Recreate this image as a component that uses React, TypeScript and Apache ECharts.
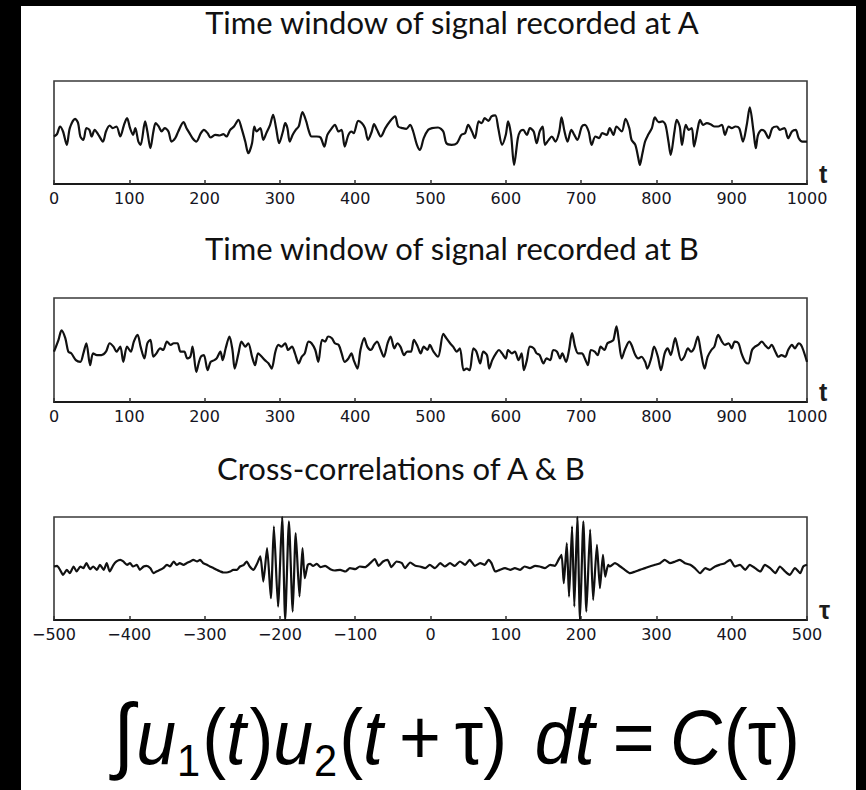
import React, { useEffect, useRef } from "react";
import * as echarts from "echarts";

// ---------- data ----------
const plotTitles = [
  "Time window of signal recorded at A",
  "Time window of signal recorded at B",
  "Cross-correlations of A & B",
];
const axisNames = ["t", "t", "τ"];
const timeRange = [0, 1000];
const lagRange = [-500, 500];
const tickStep = 100;
const ampLimit = 154;

// signal recorded at A: [t, amplitude]
const signalA = [
  [0,-12],[4,-5],[8,18],[12,3],[17,-37],[21,13],[28,41],[32,28],[35,-12],[39,-22],[43,13],[47,8],[50,-12],[54,8],[59,-7],[65,-27],[69,3],[74,21],[78,13],[83,18],[88,-12],[93,23],[97,43],[101,13],[105,-7],[108,13],[112,-27],[115,-37],[121,33],[124,3],[128,-47],[132,3],[135,28],[139,18],[143,3],[147,13],[152,3],[156,-27],[161,-17],[165,3],[172,31],[176,13],[180,-2],[184,-17],[189,-27],[195,-2],[199,8],[204,-2],[208,-15],[214,-7],[220,-9],[225,-5],[229,-12],[234,8],[239,18],[245,38],[249,13],[254,-27],[258,-62],[263,-32],[266,18],[269,3],[274,13],[278,-22],[282,-2],[287,23],[291,53],[295,13],[299,-32],[304,3],[307,28],[310,13],[313,-27],[317,-7],[321,8],[325,18],[330,61],[335,33],[338,8],[342,-12],[349,-12],[354,-15],[359,-42],[363,-7],[369,13],[373,23],[378,3],[382,8],[386,-42],[391,-7],[395,3],[398,-2],[404,35],[409,28],[413,13],[417,-22],[422,3],[425,25],[429,8],[434,-12],[440,13],[446,33],[453,48],[457,18],[463,13],[468,11],[473,23],[477,3],[482,-37],[486,-52],[491,-17],
  [497,8],[502,13],[510,15],[517,3],[521,-32],[528,-37],[535,-32],[541,-7],[546,-2],[550,23],[555,3],[559,-17],[564,33],[568,28],[572,43],[577,35],[581,48],[586,51],[590,13],[595,-37],[600,-7],[603,33],[607,-7],[611,-97],[616,-17],[619,3],[623,8],[628,-7],[632,13],[637,3],[641,-32],[645,3],[649,18],[652,-37],[657,-22],[661,-12],[666,-27],[671,3],[674,45],[678,3],[682,-27],[687,8],[691,-7],[695,-22],[701,18],[705,23],[710,3],[714,-37],[719,-12],[724,-17],[728,-2],[734,-7],[738,13],[743,-7],[747,18],[754,3],[759,41],[764,13],[767,-22],[772,-37],[776,-77],[778,-97],[781,-67],[785,-27],[789,-7],[794,13],[798,45],[803,31],[808,33],[812,23],[816,-27],[819,-67],[824,3],[827,38],[831,18],[834,-37],[839,23],[843,8],[847,13],[850,-42],[855,13],[858,38],[862,23],[867,28],[873,23],[877,18],[882,18],[887,23],[891,-7],[896,18],[900,13],[905,18],[910,13],[915,-27],[920,23],[924,75],[929,3],[932,-47],[935,-7],[940,8],[944,3],[949,-17],[954,13],[960,18],[964,8],[970,13],[975,-17],[980,3],[985,8],[989,-17],[994,-27],[1000,-27],
];

// signal recorded at B: [t, amplitude]
const signalB = [
  [0,-5],[6,30],[10,58],[15,35],[19,-5],[23,-10],[29,-30],[35,-35],[39,-10],[43,20],[48,-45],[52,-10],[57,-15],[63,-15],[69,-5],[74,20],[79,10],[83,-5],[88,10],[92,-35],[97,10],[102,-5],[106,25],[111,45],[115,10],[120,-25],[124,20],[128,30],[132,-20],[136,-10],[141,5],[145,0],[150,25],[155,15],[159,20],[164,20],[168,-5],[173,-5],[177,-25],[181,-20],[184,10],[189,-65],[192,-40],[195,-20],[199,-15],[204,-60],[208,-35],[213,-30],[216,-25],[221,-5],[224,-30],[228,5],[233,40],[237,0],[240,-55],[245,-10],[249,25],[254,10],[258,20],[263,-20],[267,-45],[271,-10],[276,-20],[280,-30],[285,-40],[289,-55],[294,-5],[298,15],[302,10],[307,20],[311,0],[316,10],[320,-10],[325,-40],[329,-20],[333,-10],[338,25],[342,20],[347,0],[351,-35],[356,30],[360,25],[364,40],[369,35],[373,20],[378,15],[382,-10],[386,-35],[391,-25],[395,-10],[398,-30],[403,-55],[407,0],[412,35],[416,10],[421,0],[425,15],[429,25],[434,0],[438,-20],[443,20],[447,40],[452,5],[456,20],[460,10],[465,-15],[469,-5],[474,-5],[478,30],[483,10],[487,-10],[491,10],[496,0],
  [499,15],[504,-5],[510,-20],[517,48],[521,35],[526,20],[530,10],[535,-5],[539,5],[544,-60],[548,-55],[552,-60],[557,5],[561,-5],[566,-40],[570,-5],[575,-15],[578,-55],[582,-30],[587,-10],[591,0],[595,-10],[600,-25],[603,0],[608,-10],[612,-5],[617,-30],[621,-10],[624,-60],[628,-30],[632,10],[637,5],[641,-10],[645,-15],[650,-40],[654,-25],[659,-30],[663,0],[668,-5],[672,-25],[675,-10],[680,-35],[684,0],[688,50],[692,10],[696,-10],[701,-10],[705,-25],[709,-45],[713,0],[718,-5],[722,-15],[726,10],[731,0],[735,20],[740,25],[743,30],[747,70],[750,30],[754,-25],[758,0],[764,25],[767,15],[772,-15],[776,-25],[780,-20],[785,-35],[788,-55],[793,-25],[797,10],[802,-20],[806,-60],[811,-10],[815,5],[819,-15],[825,35],[828,10],[833,-30],[837,-20],[842,5],[846,-5],[850,5],[855,40],[859,-5],[864,-55],[868,-20],[873,0],[877,10],[882,45],[887,25],[891,15],[896,20],[900,5],[904,25],[909,20],[913,-10],[918,-35],[922,-40],[927,0],[931,10],[935,15],[940,25],[944,15],[949,5],[953,15],[958,-5],[962,-20],[966,-15],[971,-20],[975,0],[980,15],[984,5],[989,20],[992,15],[995,0],[1000,-35],
];

// cross-correlation of A & B: [tau, C]
const crossCorr = [
  [-500,6],[-496,8],[-492,-4],[-488,-19],[-483,-4],[-479,-14],[-474,6],[-470,-9],[-465,6],[-461,1],[-457,16],[-452,-2],[-448,6],[-443,-4],[-439,11],[-434,-4],[-430,16],[-426,-9],[-421,11],[-417,21],[-412,26],[-408,21],[-403,11],[-399,16],[-395,6],[-390,11],[-386,-4],[-381,6],[-377,8],[-372,1],[-368,-14],[-364,-9],[-359,-4],[-355,1],[-350,11],[-346,6],[-341,21],[-337,11],[-333,16],[-328,11],[-324,16],[-319,21],[-315,26],[-310,21],[-306,26],[-302,16],[-297,11],[-293,6],[-288,1],[-284,-4],[-279,-9],[-275,-12],[-271,-12],[-266,-9],[-262,-4],[-257,-4],[-253,6],[-248,11],[-244,21],[-240,6],[-235,-4],[-231,11],
  [-226,36],[-222,-39],[-217,61],[-212,-89],[-208,126],[-202.5,-114],[-197,154],[-193,-154],[-188,141],[-183,-129],[-179,106],[-174,-84],[-170,61],[-167,-29],[-163,11],
  [-160,14],[-156,8],[-151,14],[-146,4],[-140,8],[-133,-2],[-127,-6],[-120,-4],[-113,-9],[-107,1],[-100,-2],[-94,6],[-87,4],[-80,16],[-74,28],[-69,8],[-63,21],[-57,26],[-52,4],[-45,21],[-38,16],[-34,1],[-27,18],[-20,8],[-14,6],[-7,1],[-1,11],[6,1],[13,16],[19,6],[26,16],[32,8],[39,21],[46,11],[52,26],[59,8],[66,16],[72,11],[77,26],[81,16],[86,-9],[92,-4],[99,1],[106,-4],[112,1],[119,-4],[125,6],[132,1],[139,8],[145,6],[152,1],[159,11],[165,8],[170,26],
  [174,41],[177,-44],[181,76],[184,-84],[188,126],[191,-114],[195,154],[198.5,-154],[203,141],[207,-129],[212,116],[216,-94],[221,71],[225,-59],[229,41],[232,-24],[236,11],
  [238,6],[245,16],[252,6],[258,-4],[265,-14],[272,-9],[278,-4],[285,1],[291,6],[298,11],[305,16],[311,26],[318,16],[325,21],[331,26],[338,16],[345,11],[351,1],[358,-14],[365,1],[371,-4],[378,6],[384,11],[391,16],[398,26],[404,6],[411,11],[418,-4],[424,11],[431,1],[438,-9],[444,11],[451,1],[458,-14],[464,6],[471,-9],[477,-19],[484,1],[491,-14],[495,6],[500,11],
];

// formula tokens (pre / post = relative gap weights)
const formulaTokens = [
  { text: "∫", italic: false, sub: false, scale: 1.08, pre: 0, post: 0.03 },
  { text: "u", italic: true, sub: false, scale: 1, pre: 0, post: 0 },
  { text: "1", italic: false, sub: true, scale: 0.58, pre: 0.01, post: 0.03 },
  { text: "(", italic: false, sub: false, scale: 1, pre: 0, post: 0 },
  { text: "t", italic: true, sub: false, scale: 1, pre: 0, post: 0.05 },
  { text: ")", italic: false, sub: false, scale: 1, pre: 0, post: 0 },
  { text: "u", italic: true, sub: false, scale: 1, pre: 0, post: 0 },
  { text: "2", italic: false, sub: true, scale: 0.58, pre: 0.01, post: 0.03 },
  { text: "(", italic: false, sub: false, scale: 1, pre: 0, post: 0 },
  { text: "t", italic: true, sub: false, scale: 1, pre: 0, post: 0.03 },
  { text: "+", italic: false, sub: false, scale: 1, pre: 0.2, post: 0.2 },
  { text: "τ", italic: false, sub: false, scale: 1, pre: 0, post: 0 },
  { text: ")", italic: false, sub: false, scale: 1, pre: 0, post: 0 },
  { text: "dt", italic: true, sub: false, scale: 1, pre: 0.4, post: 0.04 },
  { text: "=", italic: false, sub: false, scale: 1, pre: 0.22, post: 0.22 },
  { text: "C", italic: true, sub: false, scale: 1, pre: 0, post: 0.03 },
  { text: "(", italic: false, sub: false, scale: 1, pre: 0, post: 0 },
  { text: "τ", italic: false, sub: false, scale: 1, pre: 0, post: 0 },
  { text: ")", italic: false, sub: false, scale: 1, pre: 0, post: 0 },
];

// ---------- layout ----------
const W = 866;
const H = 790;
const gridBoxes = [
  { top: 81, height: 103 },
  { top: 298, height: 104 },
  { top: 517, height: 103 },
];
const titleCenters = [
  [452, 22],
  [452, 248],
  [401, 468],
];
const formulaLeft = 113;
const formulaWidth = 687;
const formulaFontSize = 78;
const formulaScaleX = 0.92;
const formulaBaseline = 770;
const subBaseline = 780;
const FORMULA_FONT = '"Liberation Sans", Arial, Helvetica, sans-serif';

function buildFormula(): any[] {
  const canvas = document.createElement("canvas");
  const ctx = canvas.getContext("2d");
  const size = formulaFontSize;
  const glyphWidth = (tok: any) => {
    const fs = size * tok.scale;
    if (!ctx) return fs * 0.55 * tok.text.length * formulaScaleX;
    ctx.font = `${tok.italic ? "italic " : ""}${fs}px ${FORMULA_FONT}`;
    return ctx.measureText(tok.text).width * formulaScaleX;
  };
  let glyphs = 0;
  let gaps = 0;
  formulaTokens.forEach((tok) => {
    glyphs += glyphWidth(tok);
    gaps += tok.pre + tok.post;
  });
  const gapUnit = Math.max(10, (formulaWidth - glyphs) / gaps);
  let x = formulaLeft;
  const els: any[] = [];
  formulaTokens.forEach((tok) => {
    const fs = size * tok.scale;
    const baseline = tok.sub ? subBaseline : formulaBaseline;
    x += tok.pre * gapUnit;
    els.push({
      type: "text",
      x,
      y: baseline - fs * 0.43,
      scaleX: formulaScaleX,
      silent: true,
      style: {
        text: tok.text,
        fontSize: fs,
        fontFamily: FORMULA_FONT,
        fontStyle: tok.italic ? "italic" : "normal",
        fill: "#000",
        align: "left",
        verticalAlign: "middle",
        textAlign: "left",
        textVerticalAlign: "middle",
      },
    });
    x += glyphWidth(tok) + tok.post * gapUnit;
  });
  return els;
}

function buildOption(): any {
  const seriesData = [signalA, signalB, crossCorr];
  const ranges = [timeRange, timeRange, lagRange];
  const fmt = (v: number) => (v < 0 ? "\u2212" + Math.abs(v) : String(v));

  const grid = gridBoxes.map((g) => ({
    left: 54,
    right: W - 807,
    top: g.top,
    height: g.height,
    show: true,
    borderColor: "#3a3a3a",
    borderWidth: 1.6,
    backgroundColor: "transparent",
  }));

  const xAxis = ranges.map((r, i) => ({
    type: "value",
    gridIndex: i,
    min: r[0],
    max: r[1],
    interval: tickStep,
    axisLine: { show: true, onZero: false, lineStyle: { color: "#1a1a1a", width: 2 } },
    axisTick: { show: true, inside: true, length: 4, lineStyle: { color: "#333", width: 1.5 } },
    axisLabel: {
      show: true,
      margin: 6,
      color: "#151522",
      fontFamily: "DejaVu Sans",
      fontSize: 16,
      formatter: fmt,
      showMinLabel: true,
      showMaxLabel: true,
    },
    splitLine: { show: false },
    name: axisNames[i],
    nameLocation: "end",
    nameGap: 12,
    nameTextStyle: {
      fontFamily: '"Liberation Sans", Arial, sans-serif',
      fontSize: 25,
      fontWeight: "bold",
      color: "#1c1c1c",
      verticalAlign: "bottom",
      lineHeight: 20,
    },
  }));

  const yAxis = ranges.map((_, i) => ({
    type: "value",
    gridIndex: i,
    min: -ampLimit,
    max: ampLimit,
    show: false,
  }));

  const series = seriesData.map((d, i) => ({
    type: "line",
    xAxisIndex: i,
    yAxisIndex: i,
    data: d,
    showSymbol: false,
    symbol: "none",
    silent: true,
    clip: true,
    smooth: i === 2 ? 0.2 : 0.3,
    lineStyle: { color: "#111", width: 2.2 },
  }));

  const titles = plotTitles.map((t, i) => ({
    type: "text",
    x: titleCenters[i][0],
    y: titleCenters[i][1],
    silent: true,
    style: {
      text: t,
      fontSize: 31,
      fontFamily: "Lato, 'Open Sans', sans-serif",
      fill: "#111",
      align: "center",
      verticalAlign: "middle",
      textAlign: "center",
      textVerticalAlign: "middle",
    },
  }));

  return {
    animation: false,
    backgroundColor: "#000",
    grid,
    xAxis,
    yAxis,
    series,
    graphic: [
      {
        type: "rect",
        z: -10,
        silent: true,
        shape: { x: 21, y: 6, width: 835, height: H - 6 },
        style: { fill: "#fff" },
      },
      ...titles,
      ...buildFormula(),
    ],
  };
}

export default function App() {
  const ref = useRef<HTMLDivElement>(null);
  useEffect(() => {
    if (!ref.current) return;
    const chart = echarts.init(ref.current, undefined, { renderer: "svg", width: W, height: H });
    chart.setOption(buildOption());
    return () => chart.dispose();
  }, []);
  return (
    <div
      ref={ref}
      style={{ position: "fixed", left: 0, top: 0, width: W, height: H, background: "#000" }}
    />
  );
}
